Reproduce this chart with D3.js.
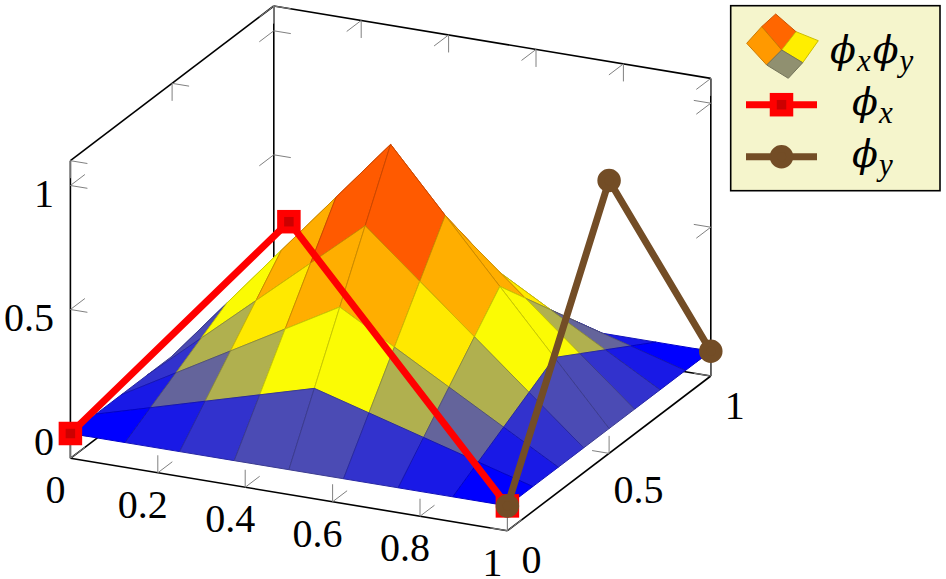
<!DOCTYPE html>
<html>
<head>
<meta charset="utf-8">
<style>
  body { margin: 0; background: #fff; }
  text { font-family: "Liberation Serif", serif; fill: #000; }
</style>
</head>
<body>
<div id="chart-container"></div>
<script src="https://cdn.jsdelivr.net/npm/d3@7"></script>
<script>
// surface samples, rows are y, columns are x
const xGrid = [0, 0.125, 0.25, 0.375, 0.5, 0.625, 0.75, 0.875, 1];
const yGrid = [0, 0.125, 0.25, 0.375, 0.5, 0.625, 0.75, 0.875, 1];
const zGrid = [
  [0, 0, 0, 0, 0, 0, 0, 0, 0],
  [0, 0.0625, 0.125, 0.1875, 0.25, 0.1875, 0.125, 0.0625, 0],
  [0, 0.125, 0.25, 0.375, 0.5, 0.375, 0.25, 0.125, 0],
  [0, 0.1875, 0.375, 0.5625, 0.75, 0.5625, 0.375, 0.1875, 0],
  [0, 0.25, 0.5, 0.75, 1, 0.75, 0.5, 0.25, 0],
  [0, 0.1875, 0.375, 0.5625, 0.75, 0.5625, 0.375, 0.1875, 0],
  [0, 0.125, 0.25, 0.375, 0.5, 0.375, 0.25, 0.125, 0],
  [0, 0.0625, 0.125, 0.1875, 0.25, 0.1875, 0.125, 0.0625, 0],
  [0, 0, 0, 0, 0, 0, 0, 0, 0]
];

// the two line plots
const phiXPoints = [[0, 0, 0], [0.5, 0, 1], [1, 0, 0]];
const phiYPoints = [[1, 0, 0], [1, 0.5, 1], [1, 1, 0]];

// ticks
const xTicks = [0, 0.2, 0.4, 0.6, 0.8, 1];
const yTicks = [0, 0.5, 1];
const zTicks = [0, 0.5, 1];

const legendLabels = [["x", "y"], ["x"], ["y"]];

const width = 946;
const height = 579;
const origin = [70.4, 458.3];
const zRange = [-0.1, 1.1];

// each data axis gets its own screen vector
const xDir = [437, 72.4];
const yDir = [203.4, -154.7];
const zPx = 297.6;
const xScale = d3.scaleLinear().domain([0, 1]).range([0, 1]);
const yScale = d3.scaleLinear().domain([0, 1]).range([0, 1]);
const zScale = d3.scaleLinear().domain(zRange).range([0, zPx]);

function project(x, y, z) {
  return [
    origin[0] + xScale(x) * xDir[0] + yScale(y) * yDir[0],
    origin[1] + xScale(x) * xDir[1] + yScale(y) * yDir[1] - zScale(z)
  ];
}

// lowest cell mean is 1/64, that one is pure blue in the picture
const colorScale = d3
  .scaleLinear()
  .domain([1 / 64, 1 / 3, 2 / 3, 1])
  .range(["#0000ff", "#ffff00", "#ff8000", "#ff0000"]);

const line = d3.line();

const svg = d3
  .select("#chart-container")
  .append("svg")
  .attr("width", width)
  .attr("height", height)
  .style("display", "block");

const [zLo, zHi] = zRange;

// box behind the surface
const boxEdges = [
  [[0, 0, zLo], [1, 0, zLo]],
  [[1, 0, zLo], [1, 1, zLo]],
  [[0, 0, zLo], [0, 1, zLo]],
  [[0, 1, zLo], [1, 1, zLo]],
  [[0, 0, zLo], [0, 0, zHi]],
  [[0, 1, zLo], [0, 1, zHi]],
  [[1, 1, zLo], [1, 1, zHi]],
  [[0, 0, zHi], [0, 1, zHi]],
  [[0, 1, zHi], [1, 1, zHi]]
];

svg
  .append("g")
  .attr("class", "box")
  .selectAll("path")
  .data(boxEdges)
  .enter()
  .append("path")
  .attr("d", d => line(d.map(p => project(...p))))
  .attr("fill", "none")
  .attr("stroke", "#000")
  .attr("stroke-width", 1.6);

// tick marks, two short strokes per tick
const stepX = [17, 2.8];
const stepY = [14.5, -11];
const stepZ = [0, -17.5];
const tickGroup = svg.append("g").attr("class", "ticks");

function tick(p, a, signA, b, signB) {
  const s = project(...p);
  [[a, signA], [b, signB]].forEach(([dir, sign]) => {
    tickGroup
      .append("path")
      .attr("d", line([s, [s[0] + sign * dir[0], s[1] + sign * dir[1]]]))
      .attr("fill", "none")
      .attr("stroke", "#808080")
      .attr("stroke-width", 1);
  });
}

xTicks.forEach(x => {
  tick([x, 0, zLo], stepZ, 1, stepY, 1);
  tick([x, 1, zHi], stepZ, -1, stepY, -1);
});
yTicks.forEach(y => {
  tick([1, y, zLo], stepZ, 1, stepX, -1);
  tick([0, y, zHi], stepZ, -1, stepX, 1);
});
zTicks.forEach(z => {
  tick([0, 0, z], stepX, 1, stepY, 1);
  tick([0, 1, z], stepX, 1, stepY, -1);
  tick([1, 1, z], stepX, -1, stepY, -1);
});

// surface, back cells first
const cells = [];
for (let j = yGrid.length - 2; j >= 0; j--) {
  for (let i = 0; i < xGrid.length - 1; i++) {
    const corners = [
      [i, j],
      [i + 1, j],
      [i + 1, j + 1],
      [i, j + 1]
    ].map(([a, b]) => [xGrid[a], yGrid[b], zGrid[b][a]]);
    cells.push({ corners: corners, meta: d3.mean(corners, c => c[2]) });
  }
}

svg
  .append("g")
  .attr("class", "surface")
  .selectAll("path")
  .data(cells)
  .enter()
  .append("path")
  .attr("d", d => line(d.corners.map(p => project(...p))) + "Z")
  .attr("fill", d => colorScale(d.meta))
  .attr("stroke", d => d3.interpolateRgb(colorScale(d.meta), "#000")(0.2))
  .attr("stroke-width", 1)
  .attr("stroke-linejoin", "round");

const RED = "#ff0000";
const RED_DARK = "#cc0000";
const BROWN = "#734d26";
const LINE_W = 7;

function squareMark(parent, x, y) {
  parent
    .append("rect")
    .attr("x", x - 8.25)
    .attr("y", y - 8.25)
    .attr("width", 16.5)
    .attr("height", 16.5)
    .attr("fill", RED_DARK)
    .attr("stroke", RED)
    .attr("stroke-width", LINE_W);
}

function circleMark(parent, x, y) {
  parent
    .append("circle")
    .attr("cx", x)
    .attr("cy", y)
    .attr("r", 8.25)
    .attr("fill", BROWN)
    .attr("stroke", BROWN)
    .attr("stroke-width", LINE_W);
}

function addLine(points, color, mark) {
  const g = svg.append("g");
  const pts = points.map(p => project(...p));
  g.append("path")
    .attr("d", line(pts))
    .attr("fill", "none")
    .attr("stroke", color)
    .attr("stroke-width", LINE_W);
  pts.forEach(p => mark(g, p[0], p[1]));
}

addLine(phiXPoints, RED, squareMark);
addLine(phiYPoints, BROWN, circleMark);

// tick labels
const labelSize = 40;
const labelGroup = svg
  .append("g")
  .attr("class", "labels")
  .attr("font-size", labelSize);

function fmt(v) {
  return String(v);
}

xTicks.forEach(x => {
  const s = project(x, 0, zLo);
  labelGroup
    .append("text")
    .attr("x", s[0] - 15)
    .attr("y", s[1] + 45)
    .attr("text-anchor", "middle")
    .text(fmt(x));
});
yTicks.forEach(y => {
  const s = project(1, y, zLo);
  const wide = y === 0.5;
  labelGroup
    .append("text")
    .attr("x", s[0] + (wide ? 29.5 : 24))
    .attr("y", s[1] + (wide ? 50 : 42.5))
    .attr("text-anchor", "middle")
    .text(fmt(y));
});
zTicks.forEach(z => {
  const s = project(0, 0, z);
  labelGroup
    .append("text")
    .attr("x", 54)
    .attr("y", s[1] + 21)
    .attr("text-anchor", "end")
    .text(fmt(z));
});

// legend
const legend = svg.append("g").attr("class", "legend");
legend
  .append("rect")
  .attr("x", 730.7)
  .attr("y", 5.7)
  .attr("width", 209.3)
  .attr("height", 185)
  .attr("fill", "#f5f5cc")
  .attr("stroke", "#000")
  .attr("stroke-width", 1.6);

// small patch of surface used as the legend image
const legendMesh = [
  [[775.7, 14], [796, 31.7], [818.3, 40.7]],
  [[761.7, 26.7], [781.7, 50], [802.7, 62.7]],
  [[746.7, 43.3], [766.7, 65], [788.3, 78.3]]
];
const legendColors = [
  ["#ff6600", "#ffee00"],
  ["#ff9900", "#909070"]
];
legendColors.forEach((row, r) => {
  row.forEach((c, k) => {
    const poly = [
      legendMesh[r][k],
      legendMesh[r][k + 1],
      legendMesh[r + 1][k + 1],
      legendMesh[r + 1][k]
    ];
    legend
      .append("path")
      .attr("d", line(poly) + "Z")
      .attr("fill", c)
      .attr("stroke", d3.interpolateRgb(c, "#000")(0.2))
      .attr("stroke-width", 1);
  });
});

[[104.7, RED, squareMark], [156.7, BROWN, circleMark]].forEach(([y, color, mark]) => {
  legend
    .append("path")
    .attr("d", line([[746, y], [817, y]]))
    .attr("stroke", color)
    .attr("stroke-width", LINE_W);
  mark(legend, 781.5, y);
});

function mathLabel(x, y, subs) {
  const t = legend
    .append("text")
    .attr("x", x)
    .attr("y", y)
    .attr("font-style", "italic");
  subs.forEach((s, i) => {
    t.append("tspan")
      .attr("dy", i ? -8 : 0)
      .attr("dx", i ? 2 : 0)
      .attr("font-family", "DejaVu Serif")
      .attr("font-size", 38)
      .text("\u03d5");
    t.append("tspan")
      .attr("dy", 8)
      .attr("dx", 1)
      .attr("font-size", 31)
      .text(s);
  });
}

mathLabel(830, 63, legendLabels[0]);
mathLabel(852, 115, legendLabels[1]);
mathLabel(852, 167, legendLabels[2]);
</script>
</body>
</html>
